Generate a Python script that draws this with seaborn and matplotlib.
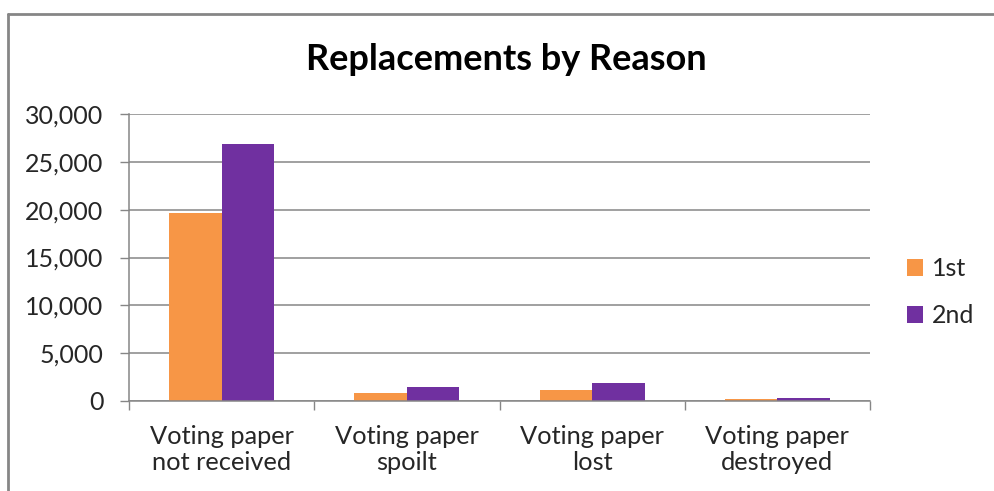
import matplotlib
matplotlib.use("Agg")
import matplotlib.pyplot as plt
import seaborn as sns
import pandas as pd
from matplotlib.lines import Line2D
from matplotlib.patches import Patch
from matplotlib.ticker import FuncFormatter, FixedLocator

# dados
motivos = ["Voting paper\nnot received", "Voting paper\nspoilt",
           "Voting paper\nlost", "Voting paper\ndestroyed"]
rodadas = ["1st", "2nd"]
valores_1st = [19600, 850, 1100, 180]
valores_2nd = [26900, 1420, 1840, 285]
yticks = [0, 5000, 10000, 15000, 20000, 25000, 30000]
cores = {"1st": "#F79646", "2nd": "#7030A0"}

df = pd.DataFrame({
    "motivo": motivos * 2,
    "rodada": ["1st"] * 4 + ["2nd"] * 4,
    "valor": valores_1st + valores_2nd,
})

sns.set_theme(style="white")
plt.rcParams["font.family"] = ["Lato", "DejaVu Sans"]
cinza = "#868686"

fig = plt.figure(figsize=(9.94, 4.91), dpi=100)
ax = fig.add_axes([129 / 994, 1 - 401 / 491, 741 / 994, 287 / 491])

sns.barplot(data=df, x="motivo", y="valor", hue="rodada", palette=cores,
            width=0.567, saturation=1, linewidth=0, legend=False, ax=ax)

ax.set_xlim(-0.5, 3.5)
ax.set_ylim(0, 30000)
ax.set_yticks(yticks)
ax.yaxis.set_major_formatter(FuncFormatter(lambda v, _: f"{v:,.0f}"))
ax.yaxis.grid(True, color=cinza, linewidth=1.1)
ax.set_axisbelow(True)
ax.set_xlabel("")
ax.set_ylabel("")

for lado in ["top", "right"]:
    ax.spines[lado].set_visible(False)
for lado in ["left", "bottom"]:
    ax.spines[lado].set_color(cinza)
    ax.spines[lado].set_linewidth(1.1)

ax.tick_params(axis="y", left=True, length=6.5, width=1, color=cinza,
               labelsize=18, labelcolor="#262626", pad=12)
ax.tick_params(axis="x", which="major", length=0, labelsize=18.3,
               labelcolor="#262626", pad=17)
ax.xaxis.set_minor_locator(FixedLocator([-0.5, 0.5, 1.5, 2.5, 3.5]))
ax.tick_params(axis="x", which="minor", bottom=True, length=6.5, width=1,
               color=cinza)
for t in ax.get_xticklabels():
    t.set_linespacing(1.2)

fig.text(0.509, 0.879, "Replacements by Reason", ha="center", va="center",
         fontsize=26, fontweight="bold", color="black")

handles = [Patch(facecolor=cores[r], edgecolor="none", label=r) for r in rodadas]
fig.legend(handles=handles, loc="center left", bbox_to_anchor=(0.912, 0.405),
           frameon=False, fontsize=18, handlelength=0.65, handleheight=0.65,
           handletextpad=0.35, labelspacing=0.95, borderpad=0, borderaxespad=0)

# moldura do gráfico (topo e esquerda visíveis)
fig.add_artist(Line2D([8 / 994, 1], [1 - 14 / 491] * 2, color=cinza, lw=2,
                      transform=fig.transFigure))
fig.add_artist(Line2D([8 / 994] * 2, [0, 1 - 14 / 491], color=cinza, lw=2,
                      transform=fig.transFigure))

fig.savefig("out.png", dpi=100)
plt.close(fig)
